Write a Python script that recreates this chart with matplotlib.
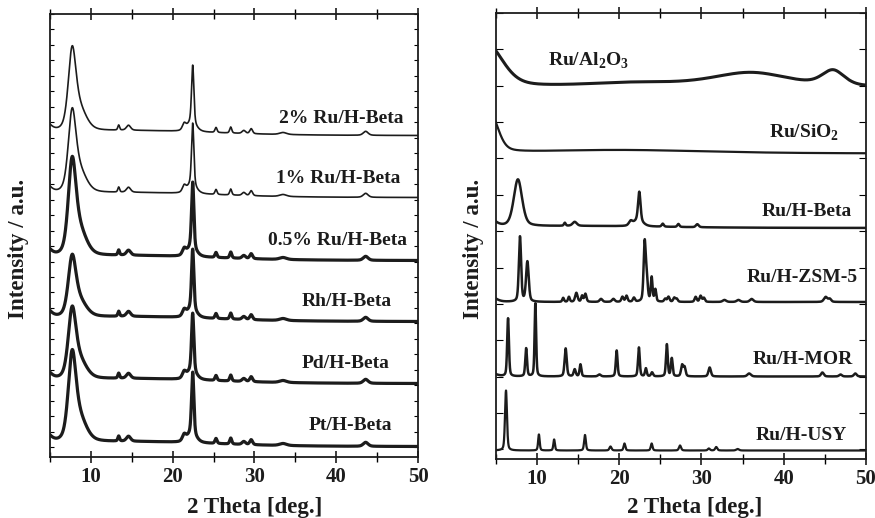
import numpy as np
import matplotlib
matplotlib.use('Agg')
import matplotlib.pyplot as plt

plt.rcParams['font.family'] = ['Liberation Serif', 'DejaVu Serif']
plt.rcParams['font.weight'] = 'bold'
plt.rcParams['axes.labelweight'] = 'bold'

# 2theta grid for drawing the profiles
two_theta = np.linspace(5, 50, 4501)

# ---- left panel: H-Beta supported metals (offset, peak heights) ----
left_names = ['2% Ru/H-Beta', '1% Ru/H-Beta', '0.5% Ru/H-Beta', 'Rh/H-Beta', 'Pd/H-Beta', 'Pt/H-Beta']
left_offsets = [321, 259, 196, 135, 73, 10]
left_h_main = [84, 84, 98, 62, 72, 91]      # peak at ~7.7 deg
left_h_sharp = [58, 62, 66, 60, 58, 62]     # peak at ~22.4 deg
left_lw = [1.2, 1.2, 2.3, 2.3, 2.3, 2.3]

# shared H-Beta minor reflections: position, height, fwhm
beta_pos = [4.3, 13.4, 14.6, 21.4, 22.3, 25.3, 27.1, 28.7, 29.6, 33.5, 43.6, 15.0]
beta_h = [12, 5, 5, 6, 9, 5, 6, 3, 5, 2, 4, 5]
beta_w = [1.6, 0.25, 0.6, 0.5, 1.3, 0.3, 0.3, 0.5, 0.4, 1.0, 0.7, 24.0]

# ---- right panel: Ru on different supports ----
al2o3_pos = [4.0, 22.0, 36.0, 46.0]
al2o3_h = [42, 4, 14, 15]
al2o3_w = [4.5, 14.0, 11.0, 3.2]

sio2_pos = [4.4, 20.0]
sio2_h = [38, 3.5]
sio2_w = [2.2, 25.0]

rbeta_pos = [4.3, 7.7, 13.4, 14.6, 21.4, 22.45, 22.3, 25.3, 27.2, 29.5, 15.0]
rbeta_h = [8, 47, 3, 4, 4, 29, 6, 3, 3, 3, 2]
rbeta_w = [1.6, 1.2, 0.25, 0.6, 0.5, 0.35, 1.3, 0.3, 0.3, 0.4, 24.0]

zsm_pos = [4.3, 7.95, 8.85, 13.2, 13.9, 14.8, 15.5, 15.9, 17.8, 19.3, 20.4, 20.9, 21.8,
           23.1, 23.35, 23.95, 24.4, 25.6, 26.0, 26.7, 27.0, 29.3, 29.9, 30.3, 32.8, 34.5,
           36.1, 45.1, 45.6]
zsm_h = [6, 65, 40, 4, 5, 9, 6, 8, 3, 3, 5, 6, 4,
         58, 22, 24, 12, 3, 5, 4, 3, 5, 6, 4, 2, 2,
         3, 5, 3]
zsm_w = [1.6, 0.32, 0.38, 0.25, 0.25, 0.35, 0.25, 0.3, 0.4, 0.4, 0.3, 0.3, 0.3,
         0.3, 0.3, 0.25, 0.25, 0.3, 0.3, 0.3, 0.3, 0.3, 0.3, 0.3, 0.5, 0.5,
         0.5, 0.5, 0.4]

mor_pos = [4.3, 6.5, 8.7, 9.82, 13.5, 14.6, 15.3, 17.6, 19.7, 22.4, 23.25, 24.0, 25.8,
           26.4, 27.65, 27.95, 31.0, 35.8, 44.7, 46.9, 48.7]
mor_h = [4, 58, 28, 73, 28, 7, 12, 2, 26, 29, 8, 4, 32,
         18, 11, 9, 9, 3, 4, 2, 3]
mor_w = [1.6, 0.25, 0.25, 0.22, 0.3, 0.3, 0.25, 0.4, 0.25, 0.25, 0.25, 0.3, 0.25,
         0.25, 0.3, 0.3, 0.35, 0.5, 0.4, 0.4, 0.4]

usy_pos = [6.25, 10.25, 12.1, 15.85, 18.95, 20.65, 23.95, 27.4, 30.9, 31.8, 34.4]
usy_h = [60, 16, 11, 15.5, 4, 7, 7, 5, 2, 3.5, 1.5]
usy_w = [0.28, 0.22, 0.22, 0.25, 0.3, 0.25, 0.25, 0.3, 0.3, 0.3, 0.4]

right_names = ['Ru/Al$_\\mathregular{2}$O$_\\mathregular{3}$', 'Ru/SiO$_\\mathregular{2}$', 'Ru/H-Beta',
               'Ru/H-ZSM-5', 'Ru/H-MOR', 'Ru/H-USY']
right_offsets = [372, 305.5, 231, 157, 82.5, 8.5]
right_peaks = [(al2o3_pos, al2o3_h, al2o3_w), (sio2_pos, sio2_h, sio2_w), (rbeta_pos, rbeta_h, rbeta_w),
               (zsm_pos, zsm_h, zsm_w), (mor_pos, mor_h, mor_w), (usy_pos, usy_h, usy_w)]
right_lw = [2.2, 1.6, 1.8, 1.8, 1.8, 1.6]


def pattern(offset, pos, h, w, eta=0.4):
    # pseudo-Voigt sum of the read reflections on a flat background
    y = np.full_like(two_theta, float(offset))
    for p, a, fw in zip(pos, h, w):
        d = (two_theta - p) / fw
        g = np.exp(-4 * np.log(2) * d ** 2)
        lor = 1 / (1 + 4 * d ** 2)
        y += a * ((1 - eta) * g + eta * lor)
    return y


fig = plt.figure(figsize=(8.75, 5.18), dpi=100)
ax1 = fig.add_axes([50 / 875, 1 - 456.7 / 518, 368 / 875, 442.7 / 518])
ax2 = fig.add_axes([495.7 / 875, 1 - 459 / 518, 370.3 / 875, 446.3 / 518])

ink = '#1c1c1c'

for i in range(len(left_names)):
    pos = [7.7, 8.6, 22.45] + beta_pos
    h = [left_h_main[i] * 0.88, left_h_main[i] * 0.25, left_h_sharp[i]] + beta_h
    w = [1.1, 2.0, 0.33] + beta_w
    y = pattern(left_offsets[i], pos, h, w)
    ax1.plot(two_theta, y, color=ink, lw=left_lw[i])

left_label_y = [338, 278, 216, 155, 93, 31]
left_label_x = [48.2, 47.9, 48.65, 46.8, 46.5, 46.8]
for name, lx, ly in zip(left_names, left_label_x, left_label_y):
    ax1.text(lx, ly, name, ha='right', va='center', fontsize=14, color=ink)

for i in range(len(right_names)):
    pos, h, w = right_peaks[i]
    y = pattern(right_offsets[i], pos, h, w)
    ax2.plot(two_theta, y, color=ink, lw=right_lw[i])

right_label_x = [11.35, 46.7, 48.26, 49.0, 48.4, 47.7]
right_label_y = [398, 326, 248, 181, 99, 23]
right_label_ha = ['left', 'right', 'right', 'right', 'right', 'right']
for name, lx, ly, ha in zip(right_names, right_label_x, right_label_y, right_label_ha):
    ax2.text(lx, ly, name, ha=ha, va='center', fontsize=14, color=ink)

for ax, top, step, n in [(ax1, 442.7, 15.47, 29), (ax2, 446.3, 36.4, 13)]:
    ax.set_xlim(5, 50)
    ax.set_ylim(0, top)
    ax.set_xticks([10, 20, 30, 40, 50])
    ax.set_xticks([5, 15, 25, 35, 45], minor=True)
    ax.set_yticks([top - k * step for k in range(n)])
    ax.set_yticklabels([])
    ax.tick_params(axis='x', which='major', direction='inout', length=9, width=1.2,
                   top=True, labelsize=15, colors=ink, pad=3)
    ax.tick_params(axis='x', which='minor', direction='inout', length=7, width=1.0, top=True)
    ax.tick_params(axis='y', direction='in', length=3, width=0.8, right=True)
    for s in ax.spines.values():
        s.set_linewidth(1.3)
        s.set_color(ink)
    ax.set_xlabel('2 Theta [deg.]', fontsize=16.5, color=ink)
    ax.set_ylabel('Intensity / a.u.', fontsize=16.5, color=ink)

ax1.xaxis.set_label_coords(0.557, -0.091)
ax1.yaxis.set_label_coords(-0.057, 0.469)
ax2.xaxis.set_label_coords(0.538, -0.085)
ax2.yaxis.set_label_coords(-0.032, 0.47)
ax2.tick_params(axis='y', length=5)

fig.savefig('out.png', dpi=100)
